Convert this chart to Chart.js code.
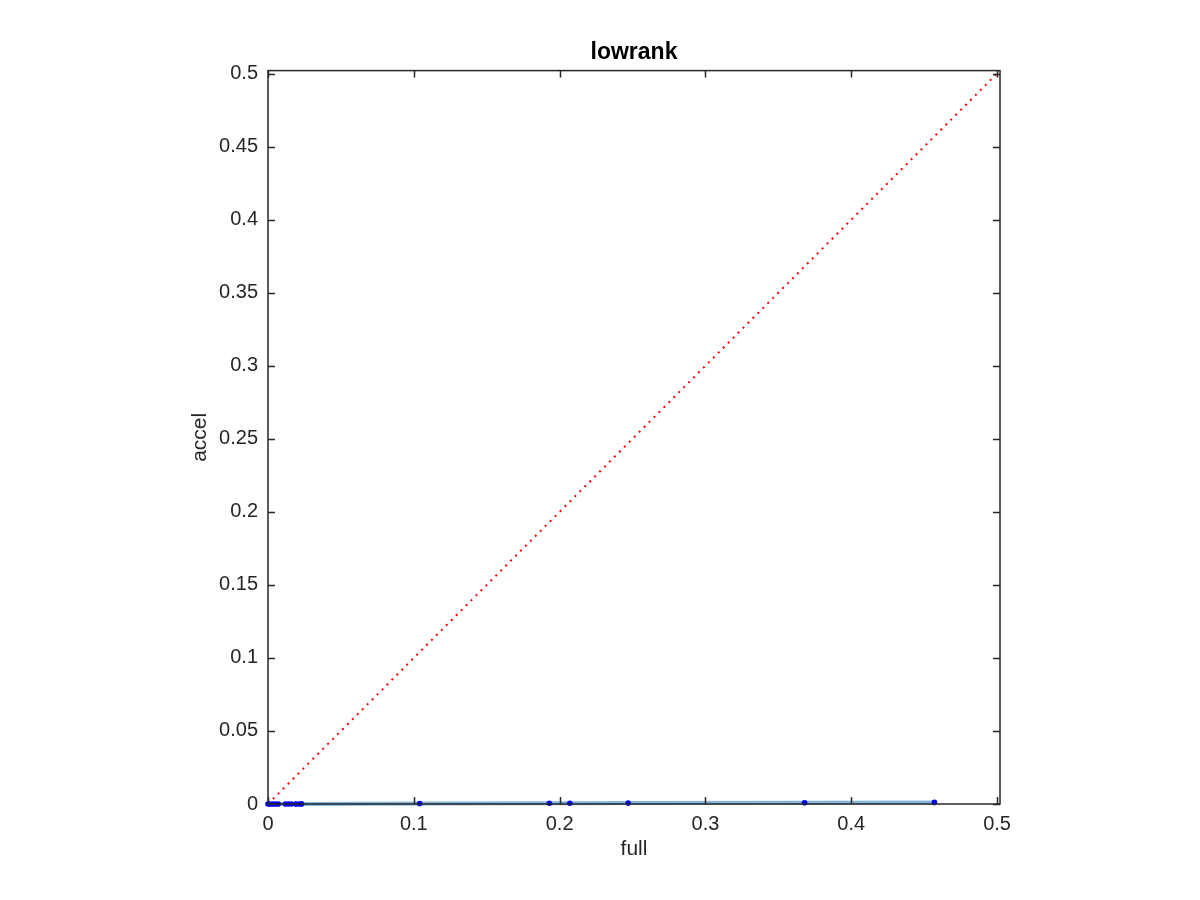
<!DOCTYPE html>
<html>
<head>
<meta charset="utf-8">
<title>lowrank</title>
<script src="https://cdn.jsdelivr.net/npm/chart.js@4.4.1/dist/chart.umd.min.js"></script>
<style>
  html, body { margin: 0; padding: 0; background: #fff; }
  #wrap { width: 1200px; height: 900px; position: relative; }
</style>
</head>
<body>
<div id="wrap"><canvas id="c"></canvas></div>
<script>
// values (x = full, y = accel)
const fullVals  = [0, 0.001, 0.003, 0.005, 0.007, 0.012, 0.014, 0.016, 0.019, 0.021, 0.023, 0.104, 0.193, 0.207, 0.247, 0.368, 0.457];
const accelVals = [0, 0.00001, 0.00001, 0.00002, 0.00002, 0.00003, 0.00004, 0.00004, 0.00005, 0.00005, 0.00006, 0.0003, 0.0005, 0.0005, 0.0006, 0.0009, 0.0011];
const refLine   = [0, 0.502];          // y = x reference
const axisMax   = 0.502;
const xTicks      = [0, 0.1, 0.2, 0.3, 0.4, 0.5];
const xTickLabels = ['0', '0.1', '0.2', '0.3', '0.4', '0.5'];
const yTicks      = [0, 0.05, 0.1, 0.15, 0.2, 0.25, 0.3, 0.35, 0.4, 0.45, 0.5];
const yTickLabels = ['0', '0.05', '0.1', '0.15', '0.2', '0.25', '0.3', '0.35', '0.4', '0.45', '0.5'];

const FONT = '"Liberation Sans", Arial, Helvetica, sans-serif';
const INK = '#262626';

const pts = fullVals.map((x, i) => ({ x, y: accelVals[i] }));

// box + inward ticks on all four sides, matlab style
const boxPlugin = {
  id: 'box',
  afterDatasetsDraw(chart) {
    const { ctx, chartArea: a, scales } = chart;
    const len = 7;
    ctx.save();
    ctx.strokeStyle = INK;
    ctx.lineWidth = 1.5;
    ctx.strokeRect(a.left, a.top, a.right - a.left, a.bottom - a.top);
    ctx.beginPath();
    xTicks.forEach(v => {
      const px = Math.round(scales.x.getPixelForValue(v)) + 0.5;
      ctx.moveTo(px, a.bottom); ctx.lineTo(px, a.bottom - len);
      ctx.moveTo(px, a.top);    ctx.lineTo(px, a.top + len);
    });
    yTicks.forEach(v => {
      const py = Math.round(scales.y.getPixelForValue(v)) + 0.5;
      ctx.moveTo(a.left, py);  ctx.lineTo(a.left + len, py);
      ctx.moveTo(a.right, py); ctx.lineTo(a.right - len, py);
    });
    ctx.stroke();
    ctx.restore();
  }
};

new Chart(document.getElementById('c'), {
  type: 'scatter',
  data: {
    datasets: [
      {
        label: 'y = x',
        data: refLine.map(v => ({ x: v, y: v })),
        showLine: true,
        borderColor: '#ff0000',
        borderWidth: 2,
        borderDash: [2, 5],
        pointRadius: 0,
        order: 3
      },
      {
        label: 'trend',
        data: pts,
        showLine: true,
        borderColor: '#86b6da',
        borderWidth: 4,
        pointRadius: 0,
        clip: false,
        order: 2
      },
      {
        label: 'lowrank',
        data: pts,
        showLine: false,
        pointRadius: 2.8,
        pointBackgroundColor: '#0000ff',
        pointBorderWidth: 0,
        clip: false,
        order: 1
      }
    ]
  },
  options: {
    responsive: true,
    maintainAspectRatio: false,
    animation: false,
    layout: { padding: { left: 0, top: 0, right: 200, bottom: 0 } },
    plugins: {
      legend: { display: false },
      tooltip: { enabled: false },
      title: {
        display: true,
        fullSize: false,
        text: 'lowrank',
        color: '#000',
        font: { family: FONT, size: 23, weight: 'bold' },
        padding: { top: 39, bottom: 4 }
      }
    },
    scales: {
      x: {
        type: 'linear',
        min: 0, max: axisMax,
        afterBuildTicks: s => { s.ticks = xTicks.map(v => ({ value: v })); },
        afterFit: s => { s.height = 96; },
        grid: { drawOnChartArea: false, drawTicks: false },
        border: { display: false },
        ticks: {
          color: INK, padding: 8, maxRotation: 0,
          font: { family: FONT, size: 20 },
          callback: (v, i) => xTickLabels[i]
        },
        title: {
          display: true, text: 'full', color: INK,
          font: { family: FONT, size: 21 },
          padding: { top: 0, bottom: 38 }
        }
      },
      y: {
        type: 'linear',
        min: 0, max: axisMax,
        afterBuildTicks: s => { s.ticks = yTicks.map(v => ({ value: v })); },
        afterFit: s => { s.width = 268; },
        grid: { drawOnChartArea: false, drawTicks: false },
        border: { display: false },
        ticks: {
          color: INK, padding: 10,
          font: { family: FONT, size: 20 },
          callback: (v, i) => yTickLabels[i]
        },
        title: {
          display: true, text: 'accel', color: INK,
          font: { family: FONT, size: 21 },
          padding: { top: 188, bottom: 0 }
        }
      }
    }
  },
  plugins: [boxPlugin]
});
</script>
</body>
</html>
